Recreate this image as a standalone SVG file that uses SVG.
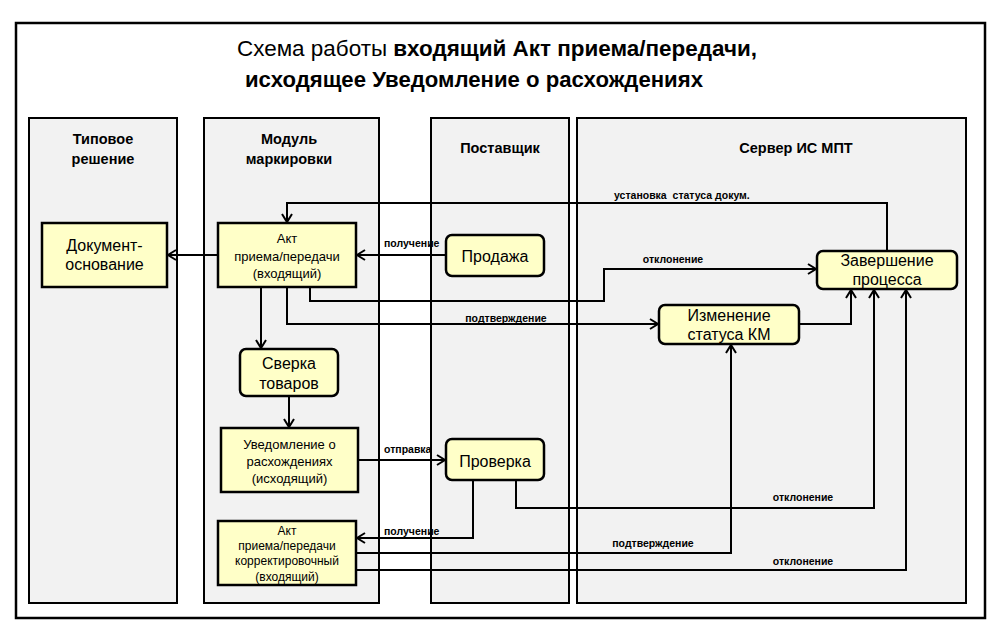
<svg xmlns="http://www.w3.org/2000/svg" width="1000" height="641" viewBox="0 0 1000 641">
<style>
  text { font-family: "Liberation Sans", Arial, sans-serif; fill: #000; }
  .lane { fill: #f2f2f2; stroke: #000; stroke-width: 2; }
  .box { fill: #ffffc8; stroke: #000; stroke-width: 2.5; }
  .hdr { font-size: 14.5px; font-weight: bold; text-anchor: middle; }
  .t13 { font-size: 13px; text-anchor: middle; }
  .t12 { font-size: 12px; text-anchor: middle; }
  .t16 { font-size: 16px; text-anchor: middle; }
  .lbl { font-size: 10.5px; font-weight: bold; white-space: pre; }
  .conn path { fill: none; stroke: #000; stroke-width: 2; }
  .conn path.a { marker-end: url(#arr); }
</style>
<defs>
  <marker id="arr" markerUnits="userSpaceOnUse" markerWidth="12" markerHeight="12" refX="9" refY="6" orient="auto">
    <path d="M1,1 L9,6 L1,11" fill="none" stroke="#000" stroke-width="2"/>
  </marker>
</defs>
<rect x="0" y="0" width="1000" height="641" fill="#fff"/>
<rect x="16" y="23" width="969" height="595" fill="#fff" stroke="#000" stroke-width="2.5"/>
<g id="title">
  <text x="497" y="56" font-size="22" text-anchor="middle" textLength="520" lengthAdjust="spacingAndGlyphs">Схема работы <tspan font-weight="bold">входящий Акт приема/передачи,</tspan></text>
  <text x="474" y="87" font-size="22" font-weight="bold" text-anchor="middle" textLength="458" lengthAdjust="spacingAndGlyphs">исходящее Уведомление о расхождениях</text>
</g>
<g id="lane-tipovoe">
  <rect class="lane" x="29" y="118" width="148" height="485"/>
  <text class="hdr" x="103" y="144">Типовое</text>
  <text class="hdr" x="103" y="164">решение</text>
</g>
<g id="lane-modul">
  <rect class="lane" x="204" y="118" width="175" height="485"/>
  <text class="hdr" x="289" y="144">Модуль</text>
  <text class="hdr" x="289" y="164">маркировки</text>
</g>
<g id="lane-postavshik">
  <rect class="lane" x="431" y="118" width="138" height="485"/>
  <text class="hdr" x="500" y="153">Поставщик</text>
</g>
<g id="lane-server">
  <rect class="lane" x="577" y="118" width="389" height="485"/>
  <text class="hdr" x="796" y="153">Сервер ИС МПТ</text>
</g>
<g class="conn" id="connectors">
  <path class="a" d="M218,255 L168,255"/>
  <path class="a" d="M446,255 L357,255"/>
  <path class="a" d="M887,251 L887,203 L287,203 L287,222"/>
  <path class="a" d="M261,287 L261,348"/>
  <path class="a" d="M287,287 L287,324 L658,324"/>
  <path class="a" d="M310,287 L310,301 L604,301 L604,269 L816,269"/>
  <path class="a" d="M799,324 L851,324 L851,290"/>
  <path class="a" d="M289,396 L289,427"/>
  <path class="a" d="M358,460 L445,460"/>
  <path class="a" d="M473,480 L473,538 L357,538"/>
  <path class="a" d="M516,480 L516,508 L874,508 L874,290"/>
  <path class="a" d="M356,553 L731,553 L731,345"/>
  <path class="a" d="M356,570 L906,570 L906,290"/>
  <text class="lbl" x="384" y="247">получение</text>
  <text class="lbl" x="614" y="199">установка  статуса докум.</text>
  <text class="lbl" x="673" y="263" text-anchor="middle">отклонение</text>
  <text class="lbl" x="506" y="322" text-anchor="middle">подтверждение</text>
  <text class="lbl" x="384" y="453">отправка</text>
  <text class="lbl" x="384" y="535">получение</text>
  <text class="lbl" x="803" y="501" text-anchor="middle">отклонение</text>
  <text class="lbl" x="653" y="547" text-anchor="middle">подтверждение</text>
  <text class="lbl" x="803" y="565" text-anchor="middle">отклонение</text>
</g>
<g id="node-dokument">
  <rect class="box" x="42" y="223" width="125" height="64"/>
  <text class="t16" x="104.5" y="251" font-size="15">Документ-</text>
  <text class="t16" x="104.5" y="270" font-size="15">основание</text>
</g>
<g id="node-akt">
  <rect class="box" x="218" y="223" width="138" height="64"/>
  <text class="t13" x="287" y="243">Акт</text>
  <text class="t13" x="287" y="261">приема/передачи</text>
  <text class="t13" x="287" y="278">(входящий)</text>
</g>
<g id="node-prodazha">
  <rect class="box" x="446" y="235" width="98" height="41" rx="6"/>
  <text class="t16" x="495" y="262">Продажа</text>
</g>
<g id="node-zavershenie">
  <rect class="box" x="817" y="251" width="140" height="38" rx="6"/>
  <text class="t16" x="887" y="266">Завершение</text>
  <text class="t16" x="887" y="285">процесса</text>
</g>
<g id="node-izmenenie">
  <rect class="box" x="659" y="305" width="140" height="39" rx="6"/>
  <text class="t16" x="729" y="321">Изменение</text>
  <text class="t16" x="729" y="340">статуса КМ</text>
</g>
<g id="node-sverka">
  <rect class="box" x="240" y="349" width="98" height="47" rx="6"/>
  <text class="t16" x="289" y="369">Сверка</text>
  <text class="t16" x="289" y="389">товаров</text>
</g>
<g id="node-uvedomlenie">
  <rect class="box" x="221" y="428" width="137" height="64"/>
  <text class="t13" x="289.5" y="449">Уведомление о</text>
  <text class="t13" x="289.5" y="466">расхождениях</text>
  <text class="t13" x="289.5" y="483">(исходящий)</text>
</g>
<g id="node-proverka">
  <rect class="box" x="446" y="439" width="98" height="41" rx="6"/>
  <text class="t16" x="495" y="467" font-size="16.5">Проверка</text>
</g>
<g id="node-akt-korr">
  <rect class="box" x="218" y="521" width="138" height="64"/>
  <text class="t12" x="287" y="535">Акт</text>
  <text class="t12" x="287" y="550">приема/передачи</text>
  <text class="t12" x="287" y="565">корректировочный</text>
  <text class="t12" x="287" y="581">(входящий)</text>
</g>
</svg>
